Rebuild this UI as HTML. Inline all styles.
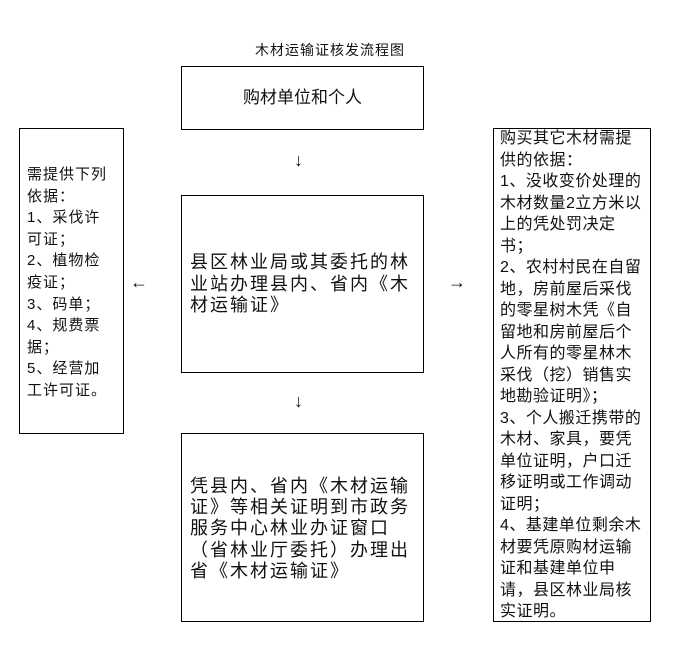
<!DOCTYPE html>
<html><head><meta charset="utf-8"><style>
body{margin:0;width:673px;height:653px;background:#fff;position:relative;overflow:hidden;font-family:"Liberation Sans","Noto Sans CJK SC","WenQuanYi Zen Hei",sans-serif;color:#111}
.b{position:absolute;border:1px solid #000;box-sizing:border-box}
.t{position:absolute;white-space:nowrap}
</style></head><body>
<div class="t" style="left:255px;top:41px;font-size:14px;letter-spacing:1px;line-height:18px">木材运输证核发流程图</div>
<div class="b" style="left:181px;top:66px;width:243px;height:64px"></div>
<div class="t" style="left:243px;top:88px;font-size:17px;line-height:20px">购材单位和个人</div>
<div class="b" style="left:19px;top:128px;width:105px;height:306px"></div>
<div class="t" style="left:27px;top:164px;font-size:15px;letter-spacing:1px;line-height:21.6px">需提供下列<br>依据：<br>1、采伐许<br>可证；<br>2、植物检<br>疫证；<br>3、码单；<br>4、规费票<br>据；<br>5、经营加<br>工许可证。</div>
<div class="b" style="left:493px;top:128px;width:158px;height:494px"></div>
<div class="t" style="left:500px;top:128px;font-size:16px;letter-spacing:0.5px;line-height:21.5px">购买其它木材需提<br>供的依据：<br>1、没收变价处理的<br>木材数量2立方米以<br>上的凭处罚决定<br>书；<br>2、农村村民在自留<br>地，房前屋后采伐<br>的零星树木凭《自<br>留地和房前屋后个<br>人所有的零星林木<br>采伐（挖）销售实<br>地勘验证明》；<br>3、个人搬迁携带的<br>木材、家具，要凭<br>单位证明，户口迁<br>移证明或工作调动<br>证明；<br>4、基建单位剩余木<br>材要凭原购材运输<br>证和基建单位申<br>请，县区林业局核<br>实证明。</div>
<div class="b" style="left:181px;top:195px;width:243px;height:178px"></div>
<div class="t" style="left:190px;top:252px;font-size:18px;letter-spacing:2px;line-height:21.5px">县区林业局或其委托的林<br>业站办理县内、省内《木<br>材运输证》</div>
<div class="b" style="left:181px;top:433px;width:243px;height:189px"></div>
<div class="t" style="left:190px;top:476px;font-size:18px;letter-spacing:2px;line-height:21.2px">凭县内、省内《木材运输<br>证》等相关证明到市政务<br>服务中心林业办证窗口<br>（省林业厅委托）办理出<br>省《木材运输证》</div>
<div class="t" style="left:294px;top:150px;font-size:18px">↓</div>
<div class="t" style="left:294px;top:391px;font-size:18px">↓</div>
<div class="t" style="left:130px;top:272px;font-size:18px">←</div>
<div class="t" style="left:448px;top:272px;font-size:18px">→</div>
</body></html>
